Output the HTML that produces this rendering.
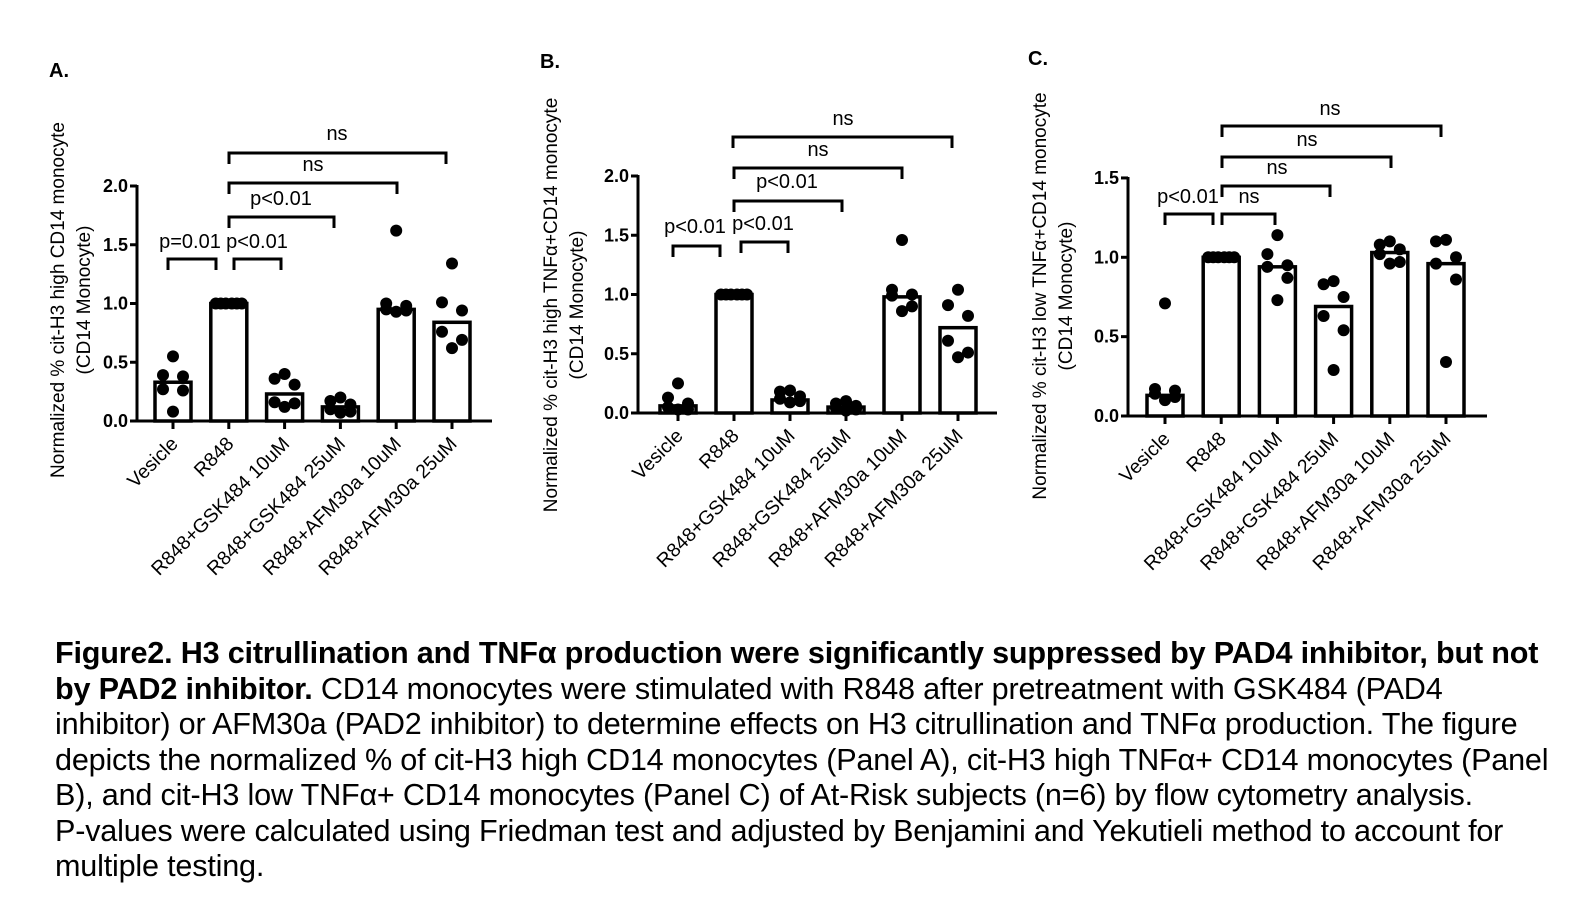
<!DOCTYPE html>
<html><head><meta charset="utf-8"><style>
body{margin:0;background:#fff;width:1584px;height:913px;overflow:hidden;font-family:"Liberation Sans",Arial,sans-serif}
svg{position:absolute;left:0;top:0}
.cap{position:absolute;left:55px;top:636px;font-size:30.6px;line-height:35.5px;color:#000;white-space:nowrap;letter-spacing:-0.2px}
</style></head><body>
<svg id="fig" width="1584" height="913"></svg>
<div class="cap"><b>Figure2. H3 citrullination and TNFα production were significantly suppressed by PAD4 inhibitor, but not</b><br><b>by PAD2 inhibitor.</b> CD14 monocytes were stimulated with R848 after pretreatment with GSK484 (PAD4<br>inhibitor) or AFM30a (PAD2 inhibitor) to determine effects on H3 citrullination and TNFα production. The figure<br>depicts the normalized % of cit-H3 high CD14 monocytes (Panel A), cit-H3 high TNFα+ CD14 monocytes (Panel<br>B), and cit-H3 low TNFα+ CD14 monocytes (Panel C) of At-Risk subjects (n=6) by flow cytometry analysis.<br>P-values were calculated using Friedman test and adjusted by Benjamini and Yekutieli method to account for<br>multiple testing.</div>
<script>
const categories=["Vesicle","R848","R848+GSK484 10uM","R848+GSK484 25uM","R848+AFM30a 10uM","R848+AFM30a 25uM"];
const meansA=[0.33,1.0,0.23,0.12,0.95,0.84];
const pointsA=[[0.55,0.39,0.38,0.27,0.26,0.08],[1,1,1,1,1,1],[0.40,0.36,0.31,0.16,0.15,0.12],[0.20,0.17,0.14,0.10,0.08,0.07],[1.62,1.0,0.98,0.95,0.94,0.93],[1.34,1.01,0.94,0.76,0.69,0.62]];
const meansB=[0.06,1.0,0.11,0.05,0.98,0.72];
const pointsB=[[0.25,0.13,0.08,0.05,0.03,0.03],[1,1,1,1,1,1],[0.19,0.18,0.14,0.12,0.10,0.09],[0.10,0.08,0.06,0.04,0.03,0.02],[1.46,1.04,1.0,0.99,0.90,0.86],[1.04,0.91,0.82,0.61,0.51,0.47]];
const meansC=[0.13,1.0,0.94,0.69,1.03,0.96];
const pointsC=[[0.71,0.17,0.16,0.14,0.12,0.10],[1,1,1,1,1,1],[1.14,1.02,0.95,0.94,0.87,0.73],[0.85,0.83,0.75,0.63,0.54,0.29],[1.10,1.08,1.05,1.02,0.97,0.96],[1.11,1.10,1.00,0.96,0.86,0.34]];
const ticksAB=["0.0","0.5","1.0","1.5","2.0"];
const ticksC=["0.0","0.5","1.0","1.5"];
const sigA=["p=0.01","p<0.01","p<0.01","ns","ns"];
const sigB=["p<0.01","p<0.01","p<0.01","ns","ns"];
const sigC=["p<0.01","ns","ns","ns","ns"];

const NS="http://www.w3.org/2000/svg";
const svg=document.getElementById('fig');
function el(t,a,p){const e=document.createElementNS(NS,t);for(const k in a)e.setAttribute(k,a[k]);(p||svg).appendChild(e);return e;}
const jit=[0,-10,10,-10,10,0];
const jitR=[-13,-8,-3,3,8,13];

function panel(cfg){
  const g=el('g',{});
  
  
  const y=v=>cfg.y0-v*cfg.unit;
  const x=i=>cfg.x1+i*cfg.step;
  const L=el('text',{x:cfg.lx,y:cfg.ly,'font-size':20,'font-weight':'bold'},g);L.textContent=cfg.letter;
  
  
  const ya=el('line',{x1:cfg.ax,x2:cfg.ax,y1:y(cfg.ymax)-1,y2:cfg.y0+1.5,stroke:'#000','stroke-width':3},g);
  
  
  const xa=el('line',{x1:cfg.ax-1.5,x2:cfg.xend,y1:cfg.y0,y2:cfg.y0,stroke:'#000','stroke-width':3},g);
  
  
  cfg.ticks.forEach((t,i)=>{
    const v=parseFloat(t);
    el('line',{x1:cfg.ax-7,x2:cfg.ax,y1:y(v),y2:y(v),stroke:'#000','stroke-width':3},g);
    const tx=el('text',{x:cfg.ax-9,y:y(v)+6,'font-size':18,'font-weight':'bold','text-anchor':'end'},g);tx.textContent=t;
    
    
  });
  const tt=el('text',{transform:`translate(${cfg.tx},${cfg.ty}) rotate(-90)`,'font-size':19,'text-anchor':'middle'},g);
  
  
  const s1=el('tspan',{x:0,y:0},tt);s1.textContent=cfg.title;
  const s2=el('tspan',{x:0,y:26},tt);s2.textContent="(CD14 Monocyte)";
  categories.forEach((c,i)=>{
    const cx=x(i);
    el('line',{x1:cx,x2:cx,y1:cfg.y0,y2:cfg.y0+8,stroke:'#000','stroke-width':3},g);
    const lb=el('text',{transform:`translate(${cx+6},${cfg.y0+24}) rotate(-45)`,'font-size':19.5,'text-anchor':'end'},g);lb.textContent=c;
    
    
    const b=el('rect',{x:cx-18,y:y(cfg.means[i]),width:36,height:cfg.y0-y(cfg.means[i]),fill:'#fff',stroke:'#000','stroke-width':3.5},g);
    
    
    const allSame=cfg.points[i].every(p=>p===cfg.points[i][0]);
    cfg.points[i].forEach((p,j)=>{
      const d=el('circle',{cx:cx+(allSame?jitR[j]:jit[j]),cy:y(p),r:6,fill:'#000'},g);
      
      
    });
  });
  cfg.br.forEach((b,k)=>{
    const pth=el('path',{d:`M${b[0]},${b[2]+11}V${b[2]}H${b[1]}V${b[2]+11}`,fill:'none',stroke:'#000','stroke-width':3},g);
    
    
    const t=el('text',{x:b[3],y:b[4],'font-size':20,'text-anchor':'middle'},g);t.textContent=cfg.sig[k];
    
    
  });
}
panel({name:'panel-a',letter:'A.',lx:49,ly:77,ax:137,y0:421,unit:117.5,ymax:2,x1:173,step:55.8,xend:492,ticks:ticksAB,means:meansA,points:pointsA,sig:sigA,
  title:"Normalized % cit-H3 high CD14 monocyte",tx:64,ty:300,
  br:[[168,216,259,190,248],[234,281,259,257,248],[229,334,217,281,205],[229,397,183,313,171],[229,446,153,337,140]]});
panel({name:'panel-b',letter:'B.',lx:540,ly:68,ax:638,y0:413,unit:118.5,ymax:2,x1:678,step:56,xend:997,ticks:ticksAB,means:meansB,points:pointsB,sig:sigB,
  title:"Normalized % cit-H3 high TNFα+CD14 monocyte",tx:557,ty:305,
  br:[[673,720,246,695,233],[741,788,242,763,230],[734,842,201,787,188],[734,902,168,818,156],[733,952,137,843,125]]});
panel({name:'panel-c',letter:'C.',lx:1028,ly:65,ax:1128,y0:416,unit:158.7,ymax:1.5,x1:1165,step:56.2,xend:1487,ticks:ticksC,means:meansC,points:pointsC,sig:sigC,
  title:"Normalized % cit-H3 low TNFα+CD14 monocyte",tx:1046,ty:296,
  br:[[1165,1213,214,1188,203],[1222,1275,214,1249,203],[1222,1330,186,1277,174],[1222,1391,157,1307,146],[1222,1441,126,1330,115]]});
</script>
</body></html>
